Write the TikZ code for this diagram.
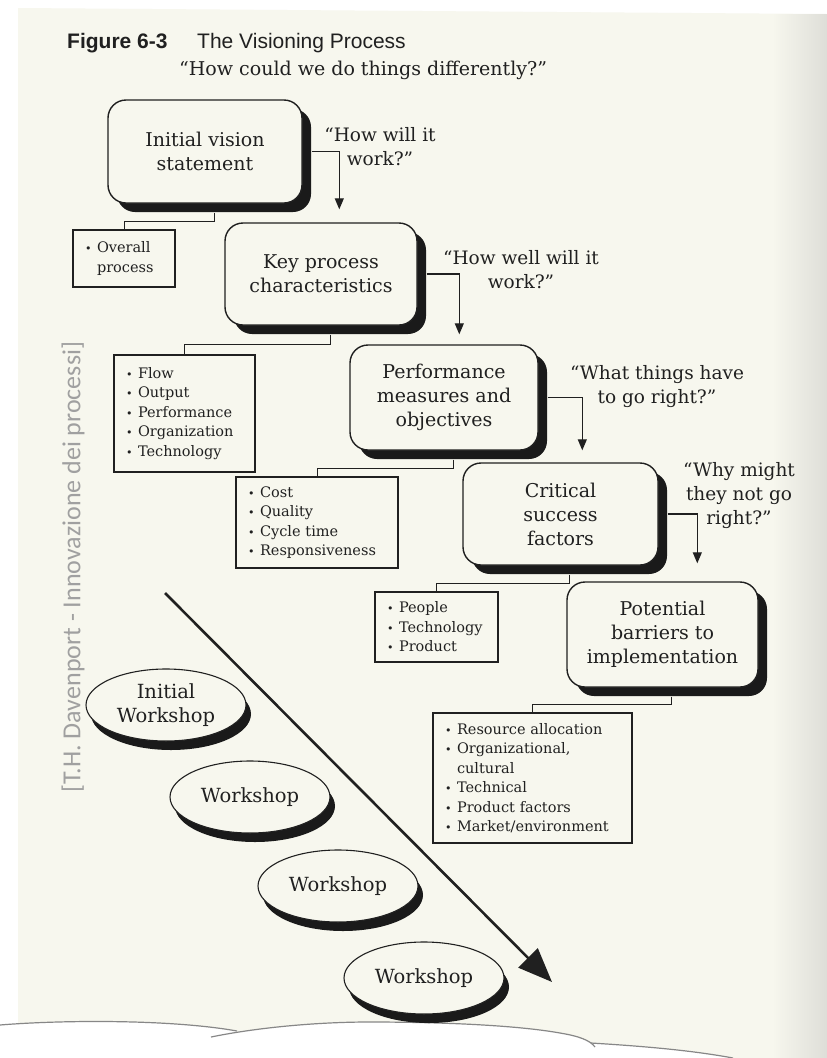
\documentclass[tikz,border=0pt]{standalone}
\usepackage{fontspec}
\setmainfont{DejaVu Serif}
\newfontfamily\headfont{Liberation Sans}
\newfontfamily\notefont{Carlito}
\usetikzlibrary{calc,shadows,arrows.meta,shapes.geometric}

\definecolor{paper}{RGB}{247,247,238}
\definecolor{ink}{RGB}{32,32,32}
\definecolor{shade}{RGB}{26,26,26}
\definecolor{rule}{RGB}{135,135,135}
\definecolor{gutter}{RGB}{222,222,216}
\definecolor{notegray}{RGB}{160,160,160}

% bullet and hanging indent for the list boxes
\newcommand\bul{\makebox[12pt][l]{\fontsize{11}{11}\selectfont\textbullet}}
\newcommand\cont{\makebox[12pt][l]{}}

\begin{document}
\begin{tikzpicture}[x=1pt,y=-1pt,
  stagebox/.style={draw=ink, line width=1.4pt, fill=paper, rounded corners=18pt,
    align=center, text=ink, font=\fontsize{19}{24}\selectfont,
    drop shadow={shadow xshift=9pt, shadow yshift=-9pt, fill=shade, opacity=1}},
  listbox/.style={draw=ink, line width=1.1pt, fill=paper, align=left, text=ink,
    font=\fontsize{14.5}{19.5}\selectfont, inner xsep=12pt, inner ysep=0pt},
  question/.style={align=center, text=ink, font=\fontsize{18.5}{24}\selectfont, inner sep=0pt},
  qarrow/.style={draw=ink, line width=1.2pt, -{Triangle[length=11pt,width=9pt]}},
  bracket/.style={draw=ink, line width=1pt},
  workshop/.style={ellipse, draw=ink, line width=1.1pt, fill=paper, inner sep=0pt,
    minimum width=160pt, minimum height=72pt, align=center, text=ink,
    font=\fontsize{19.5}{24}\selectfont,
    drop shadow={shadow xshift=5pt, shadow yshift=-9pt, fill=shade, opacity=1}},
]
% page and surroundings
\useasboundingbox (0,0) rectangle (827,1058);
\fill[white] (0,0) rectangle (827,1058);
\fill[paper] (18,8) -- (827,14) -- (827,1058) -- (18,1058) -- cycle;
\shade[left color=paper, right color=gutter] (772,14) rectangle (827,1058);
% curled sheet at the bottom
\fill[white] (0,1058) -- (0,1025) .. controls (60,1020) and (170,1019) .. (237,1031) -- (237,1058) -- cycle;
\fill[white] (211,1058) -- (211,1037) .. controls (260,1027) and (320,1022) .. (369,1022)
  .. controls (440,1022) and (515,1025) .. (560,1033) .. controls (578,1036) and (590,1040) .. (595,1047) -- (595,1058) -- cycle;
\fill[white] (591,1058) -- (591,1043) .. controls (640,1046) and (690,1050) .. (733,1058) -- cycle;
\draw[rule, line width=1.2pt] (0,1025) .. controls (60,1020) and (170,1019) .. (237,1031);
\draw[rule, line width=1.2pt] (211,1037) .. controls (260,1027) and (320,1022) .. (369,1022)
  .. controls (440,1022) and (515,1025) .. (560,1033) .. controls (578,1036) and (590,1040) .. (595,1047);
\draw[rule, line width=1.2pt] (591,1043) .. controls (640,1046) and (690,1050) .. (733,1058);

% credit line along the left margin
\node[rotate=90, text=notegray, font=\notefont\fontsize{26}{26}\selectfont, inner sep=0pt]
  (credit) at (73,567) {[T.H. Davenport - Innovazione dei processi]};

% heading
\node[anchor=base west, inner sep=0pt, text=ink, font=\headfont\bfseries\fontsize{21}{21}\selectfont]
  (fig) at (67,48) {Figure 6-3};
\node[anchor=base west, inner sep=0pt, text=ink, font=\headfont\fontsize{21}{21}\selectfont]
  (title) at (197,48) {The Visioning Process};
\node[anchor=base west, inner sep=0pt, text=ink, font=\fontsize{19}{19}\selectfont]
  (sub) at (179,75) {“How could we do things differently?”};

% stages
\node[stagebox, minimum width=194pt, minimum height=103pt] (b1) at (205,151.5) {Initial vision\\statement};
\node[stagebox, minimum width=192pt, minimum height=102pt] (b2) at (321,274) {Key process\\characteristics};
\node[stagebox, minimum width=188pt, minimum height=105pt] (b3) at (444,397.5) {Performance\\measures and\\objectives};
\node[stagebox, minimum width=195pt, minimum height=102pt] (b4) at (560.5,514) {Critical\\success\\factors};
\node[stagebox, minimum width=191pt, minimum height=105pt] (b5) at (662.5,634.5) {Potential\\barriers to\\implementation};

% questions leading from one stage to the next
\node[question] (q1) at (380,147) {“How will it\\work?”};
\node[question] (q2) at (521,270) {“How well will it\\work?”};
\node[question] (q3) at (657,387) {“What things have\\to go right?”};
\node[question] (q4) at (739,496) {“Why might\\they not go\\right?”};

\draw[qarrow] ([xshift=9pt]b1.east) -| ($(b2.north west)+(115,-13)$);
\draw[qarrow] ([xshift=9pt]b2.east) -| ($(b3.north west)+(110,-10)$);
\draw[qarrow] ([xshift=9pt]b3.east) -| ($(b4.north west)+(120,-12)$);
\draw[qarrow] ([xshift=9pt]b4.east) -| ($(b5.north west)+(131,-18)$);

% detail lists
\node[listbox, text width=78pt, minimum height=57pt] (l1) at (124,258.5) {\bul Overall\\\cont process};
\node[listbox, text width=117pt, minimum height=117pt] (l2) at (184.5,413.5)
  {\bul Flow\\\bul Output\\\bul Performance\\\bul Organization\\\bul Technology};
\node[listbox, text width=138pt, minimum height=91pt] (l3) at (317,522.5)
  {\bul Cost\\\bul Quality\\\bul Cycle time\\\bul Responsiveness};
\node[listbox, text width=99pt, minimum height=70pt] (l4) at (436.5,627)
  {\bul People\\\bul Technology\\\bul Product};
\node[listbox, text width=175pt, minimum height=130pt] (l5) at (532.5,778)
  {\bul Resource allocation\\\bul Organizational,\\\cont cultural\\\bul Technical\\\bul Product factors\\\bul Market/environment};

% brackets from each stage to its list
\foreach \s/\l in {b1/l1, b2/l2, b3/l3, b4/l4, b5/l5}{
  \coordinate (\s-foot) at ([xshift=9pt,yshift=-9pt]\s.south);
  \draw[bracket] (\s-foot) |- ($(\s-foot)!0.5!(\l.north)$) -| (\l.north);
}

% workshops along the timeline
\coordinate (t0) at (165,593);
\coordinate (t1) at (552,982);
\draw[draw=ink, line width=2.6pt, -{Triangle[length=34pt,width=27pt]}] (t0) -- (t1);

\node[workshop] (w1) at (166,705) {Initial\\Workshop};
\node[workshop] (w2) at (250,797) {Workshop};
\node[workshop] (w3) at (338,886) {Workshop};
\node[workshop] (w4) at (424,978) {Workshop};
\end{tikzpicture}
\end{document}
